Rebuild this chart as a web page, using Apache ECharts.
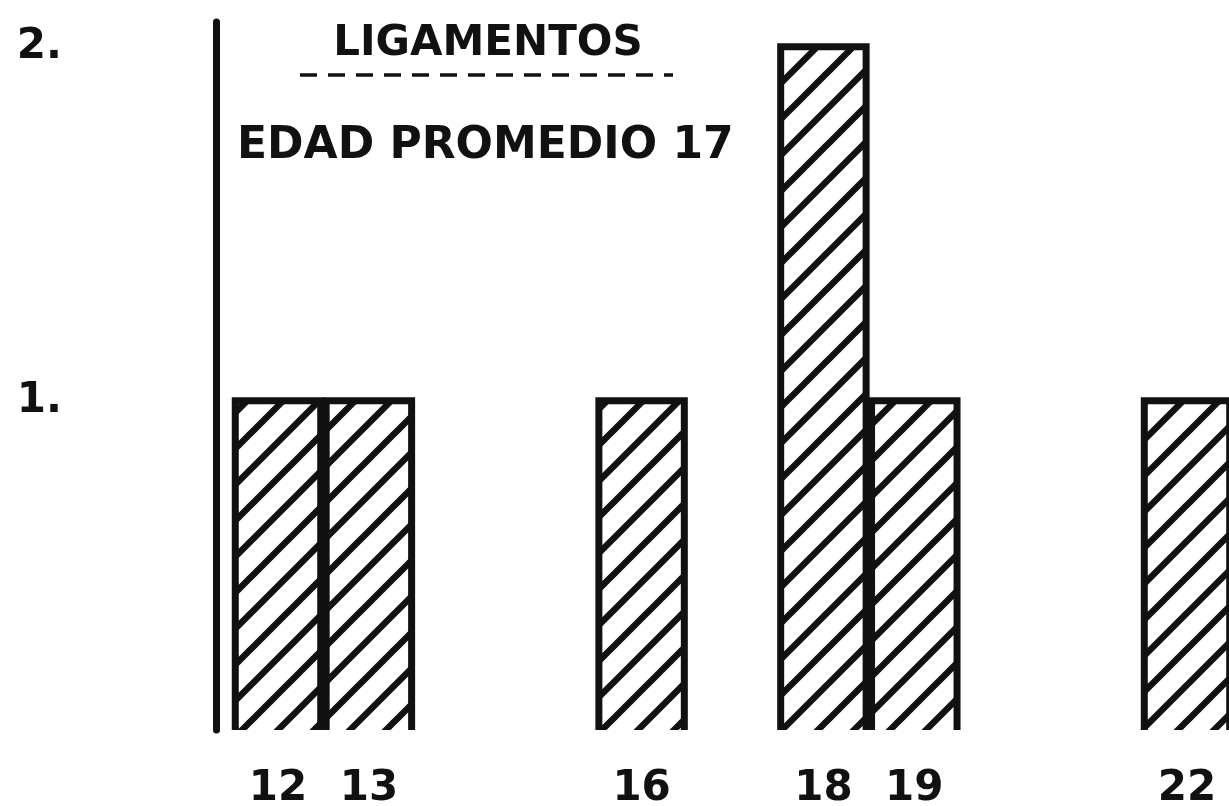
<!doctype html>
<html>
	<head>
		<meta charset="utf-8">
		<title>Ligamentos</title>
		<style>
			html, body { margin: 0; padding: 0; background: #fff; }
		</style>
	</head>
	<body>
		<script src="https://cdn.jsdelivr.net/npm/echarts@6/dist/echarts.min.js"></script>

		<div id="chart" style="width: 1229px; height: 806px;"></div>

		<script>
			// edades (eje x) y numero de casos
			let ages = [12, 13, 16, 18, 19, 22];
			let counts = [1, 1, 1, 2, 1, 1];
			let yTicks = [1, 2];
			let title = "LIGAMENTOS";
			let subtitle = "EDAD PROMEDIO 17";

			let ink = "#111";
			let font = "DejaVu Sans";

			// diagonal hatch tile
			function makeHatch() {
				let s = 36;
				let c = document.createElement("canvas");
				c.width = s;
				c.height = s;
				let ctx = c.getContext("2d");
				ctx.strokeStyle = ink;
				ctx.lineWidth = 6.5;
				ctx.lineCap = "square";
				ctx.beginPath();
				ctx.moveTo(0, s); ctx.lineTo(s, 0);
				ctx.moveTo(-s / 2, s / 2); ctx.lineTo(s / 2, -s / 2);
				ctx.moveTo(s / 2, s * 1.5); ctx.lineTo(s * 1.5, s / 2);
				ctx.stroke();
				return c;
			}

			let hatch = { image: makeHatch(), repeat: "repeat" };

			let dom = document.getElementById("chart");
			let myChart = echarts.init(dom, null, { width: 1229, height: 806 });

			let opts = {
				animation: false,
				backgroundColor: "#fff",
				grid: {
					left: 216,
					right: -12,
					top: 22,
					bottom: 76,
					outerBoundsMode: "none"
				},
				xAxis: {
					type: "value",
					min: 11.318,
					max: 22.594,
					axisLine: { show: false, onZero: false },
					axisTick: { show: false },
					splitLine: { show: false },
					axisLabel: {
						customValues: ages,
						margin: 38,
						color: ink,
						fontFamily: font,
						fontWeight: "bold",
						fontSize: 42
					}
				},
				yAxis: {
					type: "value",
					min: 0.07,
					max: 2.07,
					axisLine: {
						show: true,
						onZero: false,
						lineStyle: { color: ink, width: 7 }
					},
					axisTick: { show: false },
					splitLine: { show: false },
					axisLabel: {
						customValues: yTicks,
						formatter: "{value}.",
						margin: 154,
						color: ink,
						fontFamily: font,
						fontWeight: "bold",
						fontSize: 42
					}
				},
				graphic: [
					{
						type: "text",
						x: 488,
						y: 44,
						style: {
							text: title,
							fill: ink,
							font: "bold 42px " + font,
							align: "center",
							verticalAlign: "middle"
						}
					},
					{
						type: "line",
						shape: { x1: 300, y1: 75, x2: 673, y2: 75 },
						style: { stroke: ink, lineWidth: 3.5, lineDash: [17, 11] }
					},
					{
						type: "text",
						x: 237,
						y: 147,
						style: {
							text: subtitle,
							fill: ink,
							font: "bold 44px " + font,
							align: "left",
							verticalAlign: "middle"
						}
					}
				],
				series: [
					{
						type: "custom",
						data: ages.map((a, i) => [a, counts[i]]),
						encode: { x: 0, y: 1 },
						renderItem: function (params, api) {
							let top = api.coord([api.value(0), api.value(1)]);
							let w = api.size([0.94, 0])[0];
							let cs = params.coordSys;
							let bottom = cs.y + cs.height;
							let l = top[0] - w / 2;
							let r = top[0] + w / 2;
							return {
								type: "group",
								children: [
									{
										type: "rect",
										shape: { x: l, y: top[1], width: w, height: bottom - top[1] },
										style: { fill: hatch }
									},
									{
										type: "polyline",
										shape: { points: [[l, bottom], [l, top[1]], [r, top[1]], [r, bottom]] },
										style: { stroke: ink, lineWidth: 7, fill: null, lineJoin: "miter" }
									}
								]
							};
						}
					}
				]
			};

			myChart.setOption(opts);
		</script>
	</body>
</html>
